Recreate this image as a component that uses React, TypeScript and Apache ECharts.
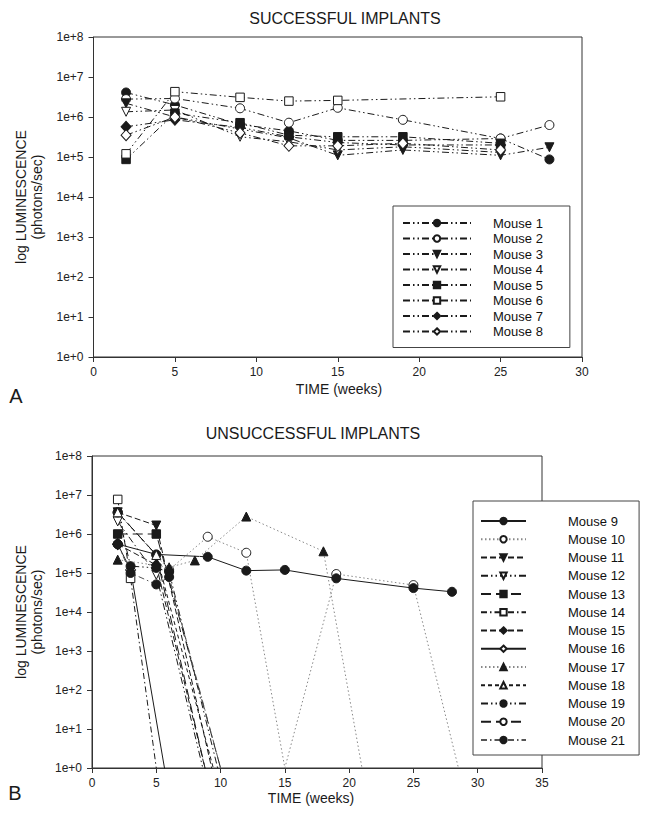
import React, { useEffect, useRef } from 'react';
import * as echarts from 'echarts';

// ---------- data (weeks, photons/sec) ----------
const topMice = ['Mouse 1', 'Mouse 2', 'Mouse 3', 'Mouse 4', 'Mouse 5', 'Mouse 6', 'Mouse 7', 'Mouse 8'];
const mouse1: [number, number][] = [[2, 4.1e6], [5, 2.0e6], [9, 6.5e5], [12, 4.5e5], [15, 2.6e5], [19, 2.6e5], [25, 2.9e5], [28, 8.7e4]];
const mouse2: [number, number][] = [[2, 2.8e6], [5, 2.9e6], [9, 1.65e6], [12, 7.2e5], [15, 1.7e6], [19, 8.5e5], [25, 2.9e5], [28, 6.3e5]];
const mouse3: [number, number][] = [[2, 2.2e6], [5, 1.0e6], [9, 5.0e5], [12, 3.0e5], [15, 1.1e5], [19, 1.5e5], [25, 1.1e5], [28, 1.75e5]];
const mouse4: [number, number][] = [[2, 1.35e6], [5, 1.5e6], [9, 3.2e5], [12, 2.4e5], [15, 1.5e5], [19, 1.8e5], [25, 1.3e5]];
const mouse5: [number, number][] = [[2, 8.7e4], [5, 1.25e6], [9, 7.2e5], [12, 3.5e5], [15, 3.2e5], [19, 3.2e5], [25, 2.2e5]];
const mouse6: [number, number][] = [[2, 1.2e5], [5, 4.3e6], [9, 3.1e6], [12, 2.5e6], [15, 2.6e6], [25, 3.2e6]];
const mouse7: [number, number][] = [[2, 5.7e5], [5, 8.5e5], [9, 5.5e5], [12, 3.2e5], [15, 2.3e5], [19, 2.0e5], [25, 2.0e5]];
const mouse8: [number, number][] = [[2, 3.5e5], [5, 1.0e6], [9, 4.0e5], [12, 1.9e5], [15, 1.9e5], [19, 2.2e5], [25, 1.5e5]];
const topData = [mouse1, mouse2, mouse3, mouse4, mouse5, mouse6, mouse7, mouse8];

const bottomMice = ['Mouse 9', 'Mouse 10', 'Mouse 11', 'Mouse 12', 'Mouse 13', 'Mouse 14', 'Mouse 15', 'Mouse 16', 'Mouse 17', 'Mouse 18', 'Mouse 19', 'Mouse 20', 'Mouse 21'];
const mouse9: [number, number][] = [[2, 5.5e5], [5, 3.0e5], [9, 2.6e5], [12, 1.15e5], [15, 1.2e5], [19, 7.3e4], [25, 4.1e4], [28, 3.3e4]];
const mouse10: [number, number][] = [[2, 3.5e6], [6, 1.2e5], [9, 8.5e5], [12, 3.3e5], [15, 1], [19, 9.4e4], [25, 4.9e4], [28.5, 1]];
const mouse11: [number, number][] = [[2, 3.6e6], [5, 1.65e6], [10, 0.1]];
const mouse12: [number, number][] = [[2, 2.1e6], [5, 9.0e4], [9, 0.3]];
const mouse13: [number, number][] = [[2, 1.0e6], [5, 1.0e6], [10, 1]];
const mouse14: [number, number][] = [[2, 7.7e6], [3, 7.3e4], [5, 1]];
const mouse15: [number, number][] = [[2, 5.5e5], [5, 1.6e5], [9, 0.5]];
const mouse16: [number, number][] = [[2, 5.5e5], [3, 1.2e5], [6, 0.2]];
const mouse17: [number, number][] = [[2, 2.2e5], [6, 1.4e5], [8, 2.1e5], [12, 2.8e6], [18, 3.6e5], [21, 1]];
const mouse18: [number, number][] = [[2, 3.6e6], [5, 2.9e5], [10, 0.2]];
const mouse19: [number, number][] = [[2, 3.6e6], [3, 1.5e5], [5, 1.35e5], [6, 1.07e5], [10, 0.5]];
const mouse20: [number, number][] = [[2, 3.6e6], [5, 2.9e5], [9, 0.5]];
const mouse21: [number, number][] = [[2, 5.5e5], [3, 1.0e5], [5, 5.1e4], [6, 7.9e4], [10, 1]];
const bottomData = [mouse9, mouse10, mouse11, mouse12, mouse13, mouse14, mouse15, mouse16, mouse17, mouse18, mouse19, mouse20, mouse21];

const yExponents = [0, 1, 2, 3, 4, 5, 6, 7, 8];

// ---------- styles ----------
const FONT = '"Liberation Sans", Arial, Helvetica, sans-serif';
const INK = '#1a1a1a';
const DDOT = [7, 3, 1.5, 3, 1.5, 3];
const DDASH = [6, 3, 1.5, 3];

type Mark = { symbol: string; filled: boolean; rotate?: number; size?: number | number[] };
const CIRC_F: Mark = { symbol: 'circle', filled: true };
const CIRC_O: Mark = { symbol: 'circle', filled: false };
const TRID_F: Mark = { symbol: 'triangle', filled: true, rotate: 180 };
const TRID_O: Mark = { symbol: 'triangle', filled: false, rotate: 180 };
const TRIU_F: Mark = { symbol: 'triangle', filled: true };
const TRIU_O: Mark = { symbol: 'triangle', filled: false };
const SQ_F: Mark = { symbol: 'rect', filled: true, size: 8.5 };
const SQ_O: Mark = { symbol: 'rect', filled: false, size: 8.5 };
const DIA_F: Mark = { symbol: 'diamond', filled: true, size: [10, 11] };
const DIA_O: Mark = { symbol: 'diamond', filled: false, size: [10, 11] };

const topMarks: Mark[] = [CIRC_F, CIRC_O, TRID_F, TRID_O, SQ_F, SQ_O, DIA_F, DIA_O];
const topLines = topMice.map(() => ({ color: INK, type: DDOT as any }));
const topZ = topMice.map(() => 3);

const bottomMarks: Mark[] = [CIRC_F, CIRC_O, TRID_F, TRID_O, SQ_F, SQ_O, DIA_F, DIA_O, TRIU_F, TRIU_O, CIRC_F, CIRC_O, CIRC_F];
const bottomLines: { color: string; type: any }[] = [
  { color: INK, type: 'solid' },
  { color: '#888', type: [1.5, 2.5] },
  { color: INK, type: [6, 3] },
  { color: INK, type: DDOT },
  { color: INK, type: [10, 5] },
  { color: INK, type: DDASH },
  { color: INK, type: [6, 3] },
  { color: INK, type: 'solid' },
  { color: '#888', type: [1.5, 2.5] },
  { color: INK, type: [4, 3] },
  { color: INK, type: DDOT },
  { color: INK, type: [10, 5] },
  { color: '#555', type: DDASH },
];
// drawing order: open markers hidden behind filled ones sit lower
const bottomZ = [4, 3, 4, 4, 4, 4, 4, 2, 4, 5, 4, 3, 4];

function makeSeries(names: string[], data: [number, number][][], marks: Mark[], lines: { color: string; type: any }[], zs: number[], axis: number, size: number) {
  return names.map((name, i) => ({
    type: 'line',
    name,
    z: zs[i],
    xAxisIndex: axis,
    yAxisIndex: axis,
    data: data[i].map(([w, v]) => (v <= 1 ? { value: [w, v], symbol: 'none' } : [w, v])),
    symbol: marks[i].symbol,
    symbolSize: marks[i].size ?? size,
    symbolRotate: marks[i].rotate ?? 0,
    showAllSymbol: true,
    clip: true,
    itemStyle: { color: marks[i].filled ? INK : '#fff', borderColor: INK, borderWidth: 1 },
    lineStyle: { color: lines[i].color, width: 1, type: lines[i].type },
    emphasis: { disabled: true },
  }));
}

function xAxis(grid: number, max: number) {
  return {
    gridIndex: grid,
    type: 'value',
    min: 0,
    max,
    interval: 5,
    axisLine: { show: true, onZero: false, lineStyle: { color: '#333', width: 1 } },
    axisTick: { show: true, length: 5, lineStyle: { color: '#333' } },
    axisLabel: { color: '#222', fontSize: 12, fontFamily: FONT, margin: 9 },
    splitLine: { show: false },
  };
}

function yAxis(grid: number) {
  return {
    gridIndex: grid,
    type: 'log',
    logBase: 10,
    min: Math.pow(10, yExponents[0]),
    max: Math.pow(10, yExponents[yExponents.length - 1]),
    splitNumber: yExponents.length - 1,
    axisLine: { show: true, lineStyle: { color: '#333', width: 1 } },
    axisTick: { show: true, length: 5, lineStyle: { color: '#333' } },
    axisLabel: {
      color: '#222',
      fontSize: 12,
      fontFamily: FONT,
      margin: 10,
      formatter: (v: number) => '1e+' + Math.round(Math.log10(v)),
    },
    splitLine: { show: false },
    minorTick: { show: false },
  };
}

function legend(names: string[], left: number, top: number, itemWidth: number, gap: number, padding: number[], textPad: number) {
  return {
    data: names,
    orient: 'vertical',
    left,
    top,
    itemWidth,
    itemHeight: 8,
    itemGap: gap,
    padding,
    borderColor: '#444',
    borderWidth: 1,
    backgroundColor: '#fff',
    selectedMode: false,
    textStyle: { fontSize: 13, fontFamily: FONT, color: '#111', lineHeight: 14, padding: [0, 0, 0, textPad] },
    z: 10,
  };
}

function txt(text: string, x: number, y: number, size: number, rotation = 0) {
  return {
    type: 'text',
    x,
    y,
    rotation,
    style: { text, fontSize: size, fontFamily: FONT, fill: '#1a1a1a', align: 'center', verticalAlign: 'middle' },
  };
}

export default function App() {
  const ref = useRef<HTMLDivElement>(null);
  useEffect(() => {
    document.body.style.margin = '0';
    if (!ref.current) return;
    const chart = echarts.init(ref.current, undefined, { renderer: 'svg' });
    chart.setOption({
      animation: false,
      backgroundColor: '#fff',
      grid: [
        { left: 93.5, top: 37, width: 488.5, height: 320, show: true, borderColor: '#333', borderWidth: 1, backgroundColor: 'transparent' },
        { left: 92, top: 456, width: 450, height: 312, show: true, borderColor: '#333', borderWidth: 1, backgroundColor: 'transparent' },
      ],
      xAxis: [xAxis(0, 30), xAxis(1, 35)],
      yAxis: [yAxis(0), yAxis(1)],
      legend: [
        legend(topMice, 393, 206, 68, 1.5, [10, 27, 9, 9], 17),
        legend(bottomMice, 473, 501, 45, 4.25, [13, 14, 8, 7], 37),
      ],
      series: [
        ...makeSeries(topMice, topData, topMarks, topLines, topZ, 0, 9),
        ...makeSeries(bottomMice, bottomData, bottomMarks, bottomLines, bottomZ, 1, 9),
      ],
      graphic: [
        txt('SUCCESSFUL IMPLANTS', 345, 18, 16),
        txt('UNSUCCESSFUL IMPLANTS', 313, 433, 16),
        txt('TIME (weeks)', 339, 389, 14),
        txt('TIME (weeks)', 311, 798, 14),
        txt('log LUMINESCENCE', 21, 197, 14, Math.PI / 2),
        txt('(photons/sec)', 37, 197, 14, Math.PI / 2),
        txt('log LUMINESCENCE', 21, 612, 14, Math.PI / 2),
        txt('(photons/sec)', 37, 612, 14, Math.PI / 2),
        txt('A', 16, 396, 20),
        txt('B', 15, 793, 20),
      ],
    });
    return () => chart.dispose();
  }, []);
  return <div ref={ref} style={{ width: 649, height: 822 }} />;
}
